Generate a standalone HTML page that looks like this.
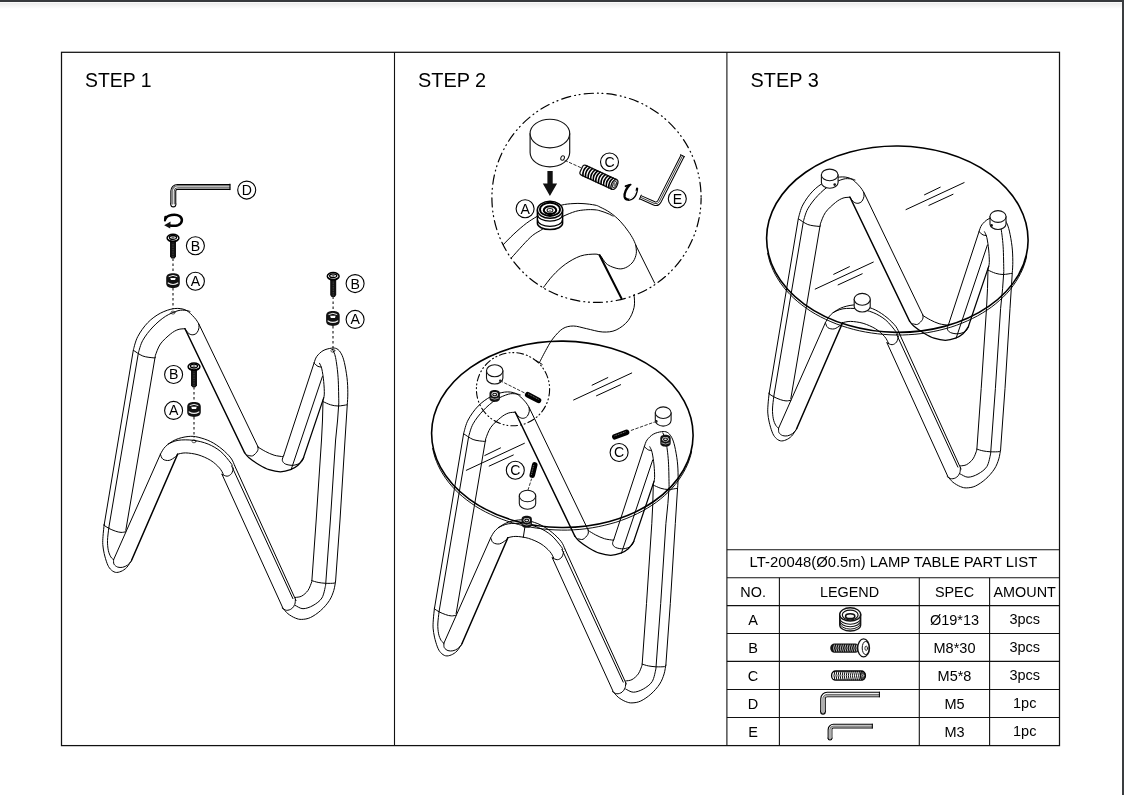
<!DOCTYPE html>
<html><head><meta charset="utf-8">
<style>
html,body{margin:0;padding:0;background:#fff;}
body{width:1124px;height:795px;overflow:hidden;position:relative;font-family:"Liberation Sans",sans-serif;}
svg{position:absolute;left:0;top:0;will-change:transform;}
text{font-family:"Liberation Sans",sans-serif;fill:#000;}
</style></head><body>
<svg width="1124" height="795" viewBox="0 0 1124 795">
<defs>
<linearGradient id="sh" x1="0" y1="0" x2="0" y2="1">
<stop offset="0" stop-color="#ececec"/><stop offset="1" stop-color="#ffffff"/>
</linearGradient>
<g id="grom">
<path d="M-6.8,-2.6 C-6.8,-6.4 -3.6,-7.4 0,-7.4 C3.6,-7.4 6.8,-6.4 6.8,-2.6 L6.8,2.6 C6.8,6.4 3.6,7.4 0,7.4 C-3.6,7.4 -6.8,6.4 -6.8,2.6 Z" fill="#111"/>
<path d="M-4,-4.1 Q0,-6.5 4,-4.1" stroke="#fff" stroke-width="0.9" fill="none"/>
<path d="M-2.7,-2.7 L2.7,-2.7 L2.1,-0.5 L-2.1,-0.5 Z" fill="#fff"/>
<path d="M-4.8,2.4 Q0,5.4 4.8,2.4" stroke="#eee" stroke-width="1.2" fill="none"/>
</g>
<g id="grom2">
<path d="M-5.2,-2.4 C-5.2,-5.2 -2.8,-6 0,-6 C2.8,-6 5.2,-5.2 5.2,-2.4 L5.2,2.4 C5.2,5.2 2.8,6 0,6 C-2.8,6 -5.2,5.2 -5.2,2.4 Z" fill="#111"/>
<ellipse cx="0" cy="-1.5" rx="3.2" ry="2.3" fill="#fff"/>
<ellipse cx="0" cy="-1.4" rx="2.0" ry="1.3" fill="#eee" stroke="#111" stroke-width="1.1"/>
<path d="M-3.8,2.3 Q0,4.6 3.8,2.3" fill="none" stroke="#aaa" stroke-width="0.9"/>
</g>
<g id="bolt">
<path d="M-3,2.5 L3,2.5 L3,18.6 L1.6,20.6 L-1.6,20.6 L-3,18.6 Z" fill="#111"/>
<path d="M0,4 L0,19" stroke="#555" stroke-width="0.8" stroke-dasharray="0.8 1.6" fill="none"/>
<ellipse cx="0" cy="0" rx="5.9" ry="3.8" fill="#fff" stroke="#000" stroke-width="1.5"/>
<ellipse cx="0" cy="-0.6" rx="3.6" ry="1.9" fill="none" stroke="#000" stroke-width="1.3"/>
<path d="M-1.2,-0.6 L1.2,-0.6 M0,-1.6 L0,0.4" stroke="#333" stroke-width="0.7" fill="none"/>
<path d="M-5,1.6 Q0,4.6 5,1.6" stroke="#000" stroke-width="1.1" fill="none"/>
</g>
</defs>
<!-- window chrome -->
<rect x="0" y="2" width="1122" height="1" fill="#f9f9f9"/>
<rect x="0" y="3" width="1122" height="6" fill="url(#sh)"/>
<rect x="0" y="0" width="1124" height="2" fill="#36393c"/>
<rect x="1122" y="0" width="2" height="795" fill="#3a3d40"/>

<!-- frame -->
<g fill="none" stroke="#111" stroke-width="1.1">
<rect x="61.5" y="52.3" width="998" height="693.3" stroke-width="1.25"/>
<line x1="394.5" y1="52" x2="394.5" y2="746"/>
<line x1="726.9" y1="52" x2="726.9" y2="746"/>
<!-- table -->
<line x1="726.9" y1="549.8" x2="1059.5" y2="549.8"/>
<line x1="726.9" y1="577.8" x2="1059.5" y2="577.8"/>
<line x1="726.9" y1="605.6" x2="1059.5" y2="605.6"/>
<line x1="726.9" y1="633.5" x2="1059.5" y2="633.5"/>
<line x1="726.9" y1="661.4" x2="1059.5" y2="661.4"/>
<line x1="726.9" y1="689.5" x2="1059.5" y2="689.5"/>
<line x1="726.9" y1="717.5" x2="1059.5" y2="717.5"/>
<line x1="779.4" y1="577.8" x2="779.4" y2="745.6"/>
<line x1="919.3" y1="577.8" x2="919.3" y2="745.6"/>
<line x1="989.6" y1="577.8" x2="989.6" y2="745.6"/>
</g>

<!-- titles -->
<g font-size="20.2">
<text transform="translate(85,87) scale(0.96,1)">STEP 1</text>
<text transform="translate(418,87) scale(0.985,1)">STEP 2</text>
<text transform="translate(750.6,87) scale(0.985,1)">STEP 3</text>
</g>
<!-- table text -->
<text x="893.4" y="567.3" font-size="14.85" text-anchor="middle">LT-20048(Ø0.5m) LAMP TABLE PART LIST</text>
<g font-size="14.4" text-anchor="middle">
<text x="753.1" y="596.6">NO.</text>
<text x="849.5" y="596.6">LEGEND</text>
<text x="954.5" y="596.6">SPEC</text>
<text x="1024.7" y="596.6">AMOUNT</text>
</g>
<g font-size="14.5" text-anchor="middle">
<text x="753.1" y="624.9">A</text>
<text x="753.1" y="652.7">B</text>
<text x="753.1" y="680.6">C</text>
<text x="753.1" y="708.6">D</text>
<text x="753.1" y="736.6">E</text>
<text x="954.5" y="624.9">Ø19*13</text>
<text x="954.5" y="652.7">M8*30</text>
<text x="954.5" y="680.6">M5*8</text>
<text x="954.5" y="708.6">M5</text>
<text x="954.5" y="736.6">M3</text>
<text x="1024.7" y="623.9">3pcs</text>
<text x="1024.7" y="651.7">3pcs</text>
<text x="1024.7" y="679.6">3pcs</text>
<text x="1024.7" y="707.6">1pc</text>
<text x="1024.7" y="735.6">1pc</text>
</g>

<g fill="none" stroke-linecap="round" stroke-linejoin="round">
<circle cx="246.7" cy="190.1" r="9.0" stroke="#000" stroke-width="1.1"/>
<text x="246.8" y="194.9" font-size="14.1" text-anchor="middle" stroke="none">D</text>
<circle cx="195.4" cy="245.7" r="9.0" stroke="#000" stroke-width="1.1"/>
<text x="195.5" y="250.5" font-size="14.1" text-anchor="middle" stroke="none">B</text>
<circle cx="195.4" cy="281.2" r="9.0" stroke="#000" stroke-width="1.1"/>
<text x="195.5" y="286.1" font-size="14.1" text-anchor="middle" stroke="none">A</text>
<circle cx="355.1" cy="283.6" r="9.0" stroke="#000" stroke-width="1.1"/>
<text x="355.2" y="288.5" font-size="14.1" text-anchor="middle" stroke="none">B</text>
<circle cx="355.1" cy="319.4" r="9.0" stroke="#000" stroke-width="1.1"/>
<text x="355.2" y="324.2" font-size="14.1" text-anchor="middle" stroke="none">A</text>
<circle cx="173.6" cy="374.5" r="9.0" stroke="#000" stroke-width="1.1"/>
<text x="173.7" y="379.4" font-size="14.1" text-anchor="middle" stroke="none">B</text>
<circle cx="173.6" cy="410.4" r="9.0" stroke="#000" stroke-width="1.1"/>
<text x="173.7" y="415.2" font-size="14.1" text-anchor="middle" stroke="none">A</text>
<path d="M173.30,204.40 L173.30,191.10 A4.20,4.20 0 0 1 177.50,186.90 L230.40,186.90" stroke="#000" stroke-width="6.0" stroke-linecap="butt"/>
<circle cx="173.3" cy="204.4" r="3.0" fill="#000"/>
<path d="M173.3,204.4 L173.3,204.39000000000001" stroke="#fff" stroke-width="3.8" stroke-linecap="round"/>
<path d="M173.30,204.40 L173.30,191.10 A4.20,4.20 0 0 1 177.50,186.90 L230.40,186.90" stroke="#fff" stroke-width="3.8" stroke-linecap="butt"/>
<path d="M172.10,204.40 L172.10,191.10 A5.40,5.40 0 0 1 177.50,185.78 L230.40,185.78" stroke="#7a7a7a" stroke-width="1.62" stroke-linecap="butt"/>
<path d="M174.26,204.40 L174.26,191.10 A3.24,3.24 0 0 1 177.50,187.80 L230.40,187.80" stroke="#1a1a1a" stroke-width="0.78" stroke-linecap="butt"/>
<path d="M229.90,184.10 L229.90,189.70" stroke="#000" stroke-width="1"/>
<path d="M165.6,218.6 C166.8,215 175.5,213.2 179.8,216.2 C183.2,218.8 182.3,223.6 178,225.2 C175.4,226 172.5,225.9 169.6,225.4" stroke-width="2.5" stroke="#000" />
<path d="M165.4,216.8 L165,220.5" stroke-width="2.2" stroke="#000" />
<path d="M164.2,225.2 L170.6,221.6 L170.2,228.6 Z" fill="#111"/>
<use href="#bolt" transform="translate(173,238) scale(1.0)"/>
<use href="#grom" transform="translate(173,280.6) scale(1.0)"/>
<use href="#bolt" transform="translate(333.2,276.3) scale(1.0)"/>
<use href="#grom" transform="translate(332.9,318.5) scale(1.0)"/>
<use href="#bolt" transform="translate(194,366.7) scale(1.0)"/>
<use href="#grom" transform="translate(194,409.5) scale(1.0)"/>
<path d="M173,258.5L173,273" stroke="#2a2a2a" stroke-width="1.2" stroke-dasharray="2.6 2.4" stroke-linecap="butt"/>
<path d="M173,288L173,309" stroke="#2a2a2a" stroke-width="1.2" stroke-dasharray="2.6 2.4" stroke-linecap="butt"/>
<path d="M333.1,296.5L333.1,311" stroke="#2a2a2a" stroke-width="1.2" stroke-dasharray="2.6 2.4" stroke-linecap="butt"/>
<path d="M333,326L333,348" stroke="#2a2a2a" stroke-width="1.2" stroke-dasharray="2.6 2.4" stroke-linecap="butt"/>
<path d="M194,387L194,402" stroke="#2a2a2a" stroke-width="1.2" stroke-dasharray="2.6 2.4" stroke-linecap="butt"/>
<path d="M194,417L194,437.5" stroke="#2a2a2a" stroke-width="1.2" stroke-dasharray="2.6 2.4" stroke-linecap="butt"/>
<ellipse cx="173" cy="312.6" rx="2" ry="1.5" stroke="#333" stroke-width="0.8"/>
<ellipse cx="194" cy="441.3" rx="2" ry="1.5" stroke="#333" stroke-width="0.8"/>
<ellipse cx="332.9" cy="350.7" rx="2" ry="1.5" stroke="#333" stroke-width="0.8"/>
<g id="frame">
<path d="M104.1,525.3L133.4,349.7L133.4,349.7C134.1,347.5 135.4,341.0 137.8,336.5C140.2,332.0 144.0,326.5 147.8,322.6C151.6,318.7 156.0,315.5 160.4,313.2C164.8,310.9 170.0,309.1 174.2,308.6C178.4,308.1 182.2,308.5 185.6,310.0C189.0,311.5 192.2,315.3 194.4,317.6C196.6,319.9 198.1,322.8 198.8,323.9L257.8,446.4" stroke-width="1.0" stroke="#000" />
<path d="M257.8,446.4C257.8,447.1 258.5,449.2 257.6,450.8C256.8,452.4 254.3,455.1 252.7,455.8C251.0,456.5 248.5,455.3 247.7,455.2" stroke-width="1.0" stroke="#000" />
<path d="M108.8,527.8L138.4,352.8L138.4,352.8C139.1,350.7 140.4,344.6 142.8,340.3C145.2,336.0 149.1,331.0 152.9,327.0C156.7,323.0 161.2,319.1 165.4,316.4C169.6,313.7 174.6,311.7 178.0,310.7C181.4,309.7 184.0,310.3 186.0,310.4C188.0,310.5 189.3,311.3 190.0,311.5" stroke-width="1.0" stroke="#000" />
<path d="M125.8,530.3L155.4,355.3L155.4,355.3C156.2,353.4 157.9,347.6 160.4,344.0C162.9,340.4 167.6,336.4 170.5,334.0C173.4,331.6 175.6,330.5 178.0,329.6C180.4,328.7 183.8,328.9 185.0,328.7" stroke-width="1.0" stroke="#000" />
<path d="M185.0,328.7L244.6,452.7" stroke-width="1.5" stroke="#000" />
<path d="M244.6,452.7C245.3,453.5 246.6,455.7 249.0,457.7C251.4,459.7 255.7,462.7 259.0,464.7C262.4,466.7 265.5,468.5 269.1,469.7C272.7,470.9 276.8,471.8 280.4,471.8C284.0,471.8 287.6,470.8 290.5,469.7C293.4,468.6 295.9,467.2 298.0,465.3C300.1,463.4 302.3,459.6 303.2,458.5L323.7,397.9" stroke-width="1.25" stroke="#000" />
<path d="M133.4,350.3C135.0,351.2 139.4,354.7 142.8,356.0C146.2,357.3 152.0,357.7 154.1,357.9C156.2,358.1 155.0,357.3 155.2,357.2" stroke-width="1.0" stroke="#000" />
<path d="M184.7,328.6C185.4,329.4 187.4,332.5 188.8,333.5C190.2,334.5 191.5,334.9 192.9,334.8C194.3,334.7 196.0,333.9 197.0,332.7C198.0,331.5 198.7,329.3 199.0,327.8C199.3,326.3 198.7,324.4 198.6,323.7" stroke-width="1.0" stroke="#000" />
<path d="M257.8,447.0C259.1,447.7 262.6,450.0 265.3,451.4C268.0,452.8 271.2,454.3 274.1,455.2C277.0,456.1 281.4,456.4 282.9,456.7" stroke-width="1.0" stroke="#000" />
<path d="M314.2,362.6L283.6,455.8" stroke-width="1.0" stroke="#000" />
<path d="M283.6,455.8C283.4,456.6 282.0,458.9 282.3,460.3C282.6,461.7 283.6,463.2 285.4,464.0C287.2,464.8 290.5,465.5 293.0,465.3C295.5,465.1 298.7,464.1 300.5,462.8C302.3,461.5 303.2,458.6 303.7,457.7" stroke-width="1.0" stroke="#000" />
<path d="M322.4,376.5L291.1,469.7" stroke-width="1.0" stroke="#000" />
<path d="M314.2,362.6C314.6,361.6 315.3,358.4 316.8,356.4C318.3,354.4 320.6,352.1 323.0,350.7C325.4,349.3 328.9,348.5 331.2,348.2C333.5,347.9 335.2,347.9 336.9,348.8C338.6,349.7 340.1,351.5 341.3,353.8C342.6,356.1 343.4,358.6 344.4,362.6C345.3,366.6 346.4,372.7 347.0,377.7C347.6,382.7 347.8,388.4 347.8,392.8C347.9,397.2 347.4,402.3 347.3,404.2L345.0,440.0L340.0,520.0L335.6,581.0L335.6,581.0C335.3,582.6 334.8,587.1 333.8,590.4C332.8,593.6 331.6,597.1 329.4,600.5C327.2,603.9 323.8,607.8 320.6,610.6C317.5,613.4 313.6,616.0 310.5,617.5C307.4,619.0 304.2,619.3 301.7,619.4C299.2,619.5 297.7,619.0 295.4,618.1C293.1,617.2 290.0,615.4 287.9,613.7C285.8,612.0 283.7,609.0 282.9,608.1L222.0,474.3" stroke-width="1.0" stroke="#000" />
<path d="M332.5,349.4C333.0,350.8 334.7,352.9 335.6,357.6C336.5,362.3 337.6,370.1 338.1,377.7C338.6,385.2 338.7,398.7 338.8,402.9L337.6,420.0L335.6,440.0L330.4,520.0L325.6,585.4L325.6,585.4C325.0,587.5 324.0,594.6 321.9,598.0C319.8,601.4 316.1,603.7 313.0,605.5C309.9,607.3 305.9,608.7 303.0,608.7C300.1,608.7 296.7,606.0 295.4,605.5" stroke-width="1.0" stroke="#000" />
<path d="M319.5,363.3C319.9,364.2 321.1,365.9 321.8,368.9C322.5,371.9 323.3,377.3 323.7,381.5C324.1,385.7 324.4,391.0 324.3,394.1C324.2,397.2 323.2,399.3 323.0,400.4L322.5,420.0L321.5,440.0L316.2,520.0L311.8,581.6L311.8,581.6C311.2,583.1 309.7,588.0 308.0,590.4C306.3,592.8 303.8,594.9 301.7,596.1C299.6,597.3 296.4,597.2 295.4,597.4" stroke-width="1.0" stroke="#000" />
<path d="M314.2,363.3C314.8,363.8 316.8,365.8 318.0,366.4C319.2,367.0 320.7,366.9 321.2,367.0" stroke-width="1.0" stroke="#000" />
<path d="M323.0,401.6C324.3,402.1 328.1,404.1 330.6,404.8C333.1,405.5 335.4,406.0 338.1,406.0C340.8,406.0 345.5,405.0 347.0,404.8" stroke-width="1.0" stroke="#000" />
<path d="M311.8,580.6C312.9,580.9 315.8,582.0 318.1,582.4C320.4,582.8 322.9,583.2 325.6,583.3C328.3,583.4 332.8,583.4 334.4,583.1C336.0,582.8 335.2,581.6 335.4,581.3" stroke-width="1.0" stroke="#000" />
<path d="M234.6,465.5L296.0,600.5" stroke-width="1.0" stroke="#000" />
<path d="M231.6,465.9L292.9,598.6" stroke-width="1.0" stroke="#000" />
<path d="M282.2,608.1C282.9,608.5 285.0,610.2 286.6,610.3C288.2,610.4 290.3,609.7 291.7,608.7C293.1,607.7 294.2,605.9 294.8,604.3C295.4,602.7 295.3,600.1 295.4,599.2" stroke-width="1.0" stroke="#000" />
<path d="M113.6,559.7L160.4,454.2L160.4,454.2C161.2,452.9 162.9,449.0 165.4,446.6C167.9,444.2 171.7,441.4 175.5,439.7C179.3,438.0 184.3,436.9 188.1,436.5C191.9,436.1 194.3,436.3 198.1,437.2C201.9,438.1 206.7,439.6 210.7,441.6C214.7,443.6 218.7,446.4 222.0,449.1C225.3,451.8 228.7,455.2 230.8,457.9C232.9,460.6 234.0,464.2 234.6,465.5" stroke-width="1.0" stroke="#000" />
<path d="M168.0,444.1C169.7,443.5 173.8,440.9 178.0,440.3C182.2,439.7 188.1,439.7 193.1,440.3C198.1,440.9 203.6,442.2 208.2,444.1C212.8,446.0 217.0,448.5 220.8,451.6C224.6,454.8 228.9,460.6 230.8,463.0C232.7,465.4 232.1,465.5 232.3,466.0" stroke-width="1.0" stroke="#000" />
<path d="M177.4,454.2C178.8,454.0 182.2,452.8 185.6,452.9C189.0,453.0 193.9,453.6 198.1,454.8C202.3,456.1 207.1,458.2 210.7,460.4C214.3,462.6 217.4,465.7 219.5,468.0C221.6,470.3 222.7,473.2 223.3,474.3" stroke-width="1.0" stroke="#000" />
<path d="M160.4,454.2C160.8,455.0 161.4,458.2 162.9,459.2C164.4,460.2 167.1,460.8 169.2,460.4C171.3,460.0 174.1,457.7 175.5,456.7C176.9,455.7 177.1,454.6 177.4,454.2" stroke-width="1.0" stroke="#000" />
<path d="M222.0,474.3C222.8,474.6 225.5,476.3 227.1,476.2C228.7,476.1 230.4,475.0 231.5,473.6C232.6,472.2 233.1,468.9 233.4,468.0" stroke-width="1.0" stroke="#000" />
<path d="M104.2,524.2C104.0,526.2 103.2,533.0 103.0,536.4C102.8,539.8 102.6,541.7 102.8,544.6C103.0,547.5 103.5,550.5 104.2,553.6C104.9,556.7 106.1,560.8 107.1,563.4C108.1,566.0 109.0,567.6 110.4,569.1C111.8,570.6 113.5,571.9 115.3,572.3C117.1,572.7 119.1,572.2 121.0,571.4C122.9,570.6 124.9,569.4 126.7,567.5C128.5,565.6 130.8,561.4 131.6,560.2" stroke-width="1.0" stroke="#000" />
<path d="M131.6,560.2L177.6,454.2" stroke-width="1.5" stroke="#000" />
<path d="M108.8,527.8C108.8,527.9 108.9,526.5 108.7,528.6C108.5,530.7 107.6,536.9 107.5,540.5C107.4,544.1 107.8,547.6 108.3,550.3C108.8,553.0 109.9,555.3 110.8,556.9C111.7,558.5 113.1,559.2 113.6,559.7" stroke-width="1.0" stroke="#000" />
<path d="M104.2,525.4C105.0,525.9 106.9,527.3 108.7,528.3C110.5,529.2 113.2,530.4 115.3,531.1C117.3,531.8 119.2,532.3 121.0,532.4C122.8,532.5 125.0,531.9 125.8,531.8" stroke-width="1.0" stroke="#000" />
<path d="M113.6,559.7C113.7,560.5 113.3,563.0 114.0,564.2C114.7,565.4 116.3,566.6 117.7,567.1C119.1,567.6 121.0,567.6 122.6,567.3C124.2,567.0 126.1,566.1 127.5,565.1C128.9,564.1 130.6,562.0 131.2,561.4" stroke-width="1.0" stroke="#000" />
</g>
<use href="#frame" transform="translate(330.3,83.5)"/>
<ellipse cx="562.35" cy="434.3" rx="130.75" ry="93.2" transform="rotate(0.65 562.35 434.3)" stroke="#000" stroke-width="1.6"/>
<path d="M691.6,451.3L690.6,455.7L689.2,460.0L687.6,464.3L685.6,468.5L683.4,472.7L680.9,476.7L678.2,480.7L675.2,484.6L671.9,488.4L668.4,492.0L664.6,495.5L660.6,498.9L656.4,502.2L651.9,505.3L647.3,508.2L642.5,511.0L637.4,513.6L632.3,516.0L626.9,518.3L621.4,520.4L615.8,522.3L610.0,523.9L604.2,525.4L598.2,526.7L592.2,527.8L586.1,528.7L579.9,529.4L573.7,529.8L567.5,530.1L561.3,530.1L555.0,529.9L548.8,529.5L542.6,528.9L536.5,528.1L530.4,527.1L524.4,525.9L518.5,524.5L512.6,522.8L506.9,521.0L501.3,519.0L495.9,516.8L490.6,514.4L485.5,511.9L480.5,509.2L475.7,506.3L471.2,503.2L466.8,500.0L462.7,496.7L458.7,493.2L455.0,489.6L451.6,485.9L448.4,482.0L445.5,478.1L442.8,474.0L440.4,469.9L438.3,465.7L436.5,461.5L434.9,457.2L433.7,452.8L432.7,448.4" stroke-width="0.95" stroke="#000" />
<path d="M573.6,400.0L631.7,373.0" stroke-width="1.0" stroke="#000" />
<path d="M592.1,385.2L607.8,377.6" stroke-width="1.0" stroke="#000" />
<path d="M596.5,395.8L620.6,384.7" stroke-width="1.0" stroke="#000" />
<path d="M466.3,470.3L524.4,443.3" stroke-width="1.0" stroke="#000" />
<path d="M484.8,455.5L500.5,447.9" stroke-width="1.0" stroke="#000" />
<path d="M489.2,466.1L513.3,455.0" stroke-width="1.0" stroke="#000" />
<path d="M524.8,527.6L523.3,537.3" stroke-width="1.0" stroke="#000" />
<use href="#grom2" transform="translate(494.7,395.9)"/>
<use href="#grom2" transform="translate(665.5,440.7)"/>
<use href="#grom2" transform="translate(526.7,521.8)"/>
<path d="M486.5,370.8 L486.5,378.0 A8.2,6.0 0 0 0 502.9,378.0 L502.9,370.8 Z" fill="#fff" stroke="#111" stroke-width="1.1"/>
<ellipse cx="494.7" cy="370.8" rx="8.2" ry="6.0" fill="#fff" stroke="#111" stroke-width="1.1"/>
<circle cx="500.3" cy="380.8" r="1.3" fill="#111"/>
<path d="M655.3,412.7 L655.3,420.3 A7.9,5.8 0 0 0 671.1,420.3 L671.1,412.7 Z" fill="#fff" stroke="#111" stroke-width="1.1"/>
<ellipse cx="663.2" cy="412.7" rx="7.9" ry="5.8" fill="#fff" stroke="#111" stroke-width="1.1"/>
<circle cx="656.3" cy="421.4" r="1.3" fill="#111"/>
<path d="M519.3,496.0 L519.3,503.4 A8.2,5.8 0 0 0 535.7,503.4 L535.7,496.0 Z" fill="#fff" stroke="#111" stroke-width="1.1"/>
<ellipse cx="527.5" cy="496" rx="8.2" ry="5.8" fill="#fff" stroke="#111" stroke-width="1.1"/>
<path d="M500.3,380.8L525.5,393.4" stroke="#333" stroke-width="1" stroke-dasharray="2.6 2.2"/>
<path d="M527.72,394.72L538.48,400.38" stroke="#000" stroke-width="5.6" stroke-linecap="round"/>
<path d="M528.14,393.92L538.90,399.58" stroke="#8a8a8a" stroke-width="0.9" stroke-dasharray="1 0.8" stroke-linecap="butt"/>
<path d="M656.3,421.4L630,430.8" stroke="#333" stroke-width="1" stroke-dasharray="2.6 2.2"/>
<path d="M614.85,436.75L626.55,432.35" stroke="#000" stroke-width="5.6" stroke-linecap="round"/>
<path d="M614.53,435.91L626.23,431.51" stroke="#8a8a8a" stroke-width="0.9" stroke-dasharray="1 0.8" stroke-linecap="butt"/>
<path d="M528,490L531.5,479" stroke="#333" stroke-width="1" stroke-dasharray="2.6 2.2"/>
<path d="M532.27,475.07L534.73,464.93" stroke="#000" stroke-width="5.6" stroke-linecap="round"/>
<path d="M531.40,474.86L533.86,464.72" stroke="#8a8a8a" stroke-width="0.9" stroke-dasharray="1 0.8" stroke-linecap="butt"/>
<circle cx="619.1" cy="452.5" r="9.0" stroke="#000" stroke-width="1.1"/>
<text x="619.2" y="457.4" font-size="14.1" text-anchor="middle" stroke="none">C</text>
<circle cx="515.3" cy="470.3" r="9.0" stroke="#000" stroke-width="1.1"/>
<text x="515.4" y="475.2" font-size="14.1" text-anchor="middle" stroke="none">C</text>
<circle cx="513" cy="389.2" r="36.6" stroke="#000" stroke-width="1.1" stroke-dasharray="6.8 3 1 2.8 1 3"/>
<path d="M634.1,294.7C634.1,296.8 635.1,303.0 634.1,307.3C633.1,311.6 631.1,316.9 628.1,320.7C625.1,324.5 620.3,328.1 616.1,330.0C611.9,331.9 607.7,332.2 602.8,332.0C597.9,331.8 591.6,329.7 586.7,328.7C581.8,327.7 577.4,326.0 573.4,326.0C569.4,326.0 566.0,326.7 562.7,328.7C559.4,330.7 556.1,334.7 553.4,338.0C550.7,341.3 549.0,344.6 546.7,348.7C544.4,352.8 540.6,360.3 539.4,362.6" stroke-width="1.0" stroke="#000" />
<path d="M536.6,360.8L542.2,364.4" stroke-width="1.0" stroke="#000" />
<circle cx="596.5" cy="197.8" r="104.6" stroke="#000" stroke-width="1.2" stroke-dasharray="9.3 4.1 0.9 3.7 0.9 4.1" stroke-dashoffset="3"/>
<path d="M503.2,244.7C505.0,242.9 510.0,237.6 513.9,234.0C517.8,230.4 522.5,226.2 526.4,223.3C530.3,220.4 533.2,218.7 537.1,216.4C541.0,214.1 545.9,211.4 550.0,209.5C554.1,207.6 557.9,206.1 561.7,205.1C565.5,204.1 569.5,203.8 573.0,203.6C576.5,203.3 579.3,203.3 583.0,203.6C586.7,203.8 592.1,204.5 595.0,205.1C597.9,205.7 597.6,205.8 600.1,207.1C602.6,208.3 606.8,210.2 610.1,212.6C613.5,214.9 617.2,218.1 620.2,221.2C623.2,224.3 626.0,228.2 628.2,231.2C630.4,234.2 631.9,236.8 633.3,239.3C634.6,241.8 635.8,245.1 636.3,246.3" stroke-width="1.0" stroke="#000" />
<path d="M636.3,246.3L654.6,283.0" stroke-width="1.0" stroke="#000" />
<path d="M511.4,257.9C513.3,255.8 519.2,249.1 522.7,245.3C526.2,241.5 529.4,238.0 532.7,235.3C536.1,232.6 539.6,231.2 542.8,229.0C546.0,226.8 548.6,224.1 552.0,222.0C555.4,219.9 559.0,218.2 562.9,216.4C566.8,214.6 571.7,212.5 575.5,211.4C579.3,210.3 582.4,210.1 585.6,209.8C588.9,209.5 592.6,209.6 595.0,209.8C597.4,210.0 597.9,210.2 600.1,210.8C602.3,211.4 605.8,212.7 608.0,213.6C610.2,214.5 612.2,215.7 613.1,216.1" stroke-width="1.0" stroke="#000" />
<path d="M635.8,245.3C635.9,246.7 636.7,250.7 636.3,253.4C635.9,256.1 634.8,259.1 633.3,261.4C631.8,263.6 629.4,265.6 627.2,266.9C625.0,268.1 622.7,268.9 620.2,268.9C617.7,268.9 614.5,267.8 612.1,266.9C609.8,266.0 607.9,265.1 606.1,263.4C604.3,261.6 602.1,257.8 601.1,256.4C600.1,255.0 600.3,255.2 600.1,254.9" stroke-width="1.0" stroke="#000" />
<path d="M543.4,287.5C545.0,285.5 549.2,279.4 552.9,275.5C556.6,271.6 560.8,267.4 565.4,264.2C570.0,260.9 575.6,257.7 580.5,256.0C585.4,254.3 591.8,254.2 595.0,254.1C598.2,254.0 598.8,255.0 599.6,255.2" stroke-width="1.0" stroke="#000" />
<path d="M599.6,255.2L621.4,298.3" stroke-width="2.0" stroke="#000" />
<path d="M634.3,294.5L634.5,294.8" stroke-width="1.0" stroke="#000" />
<path d="M537.4,210 L537.4,223.2 A12.6,6.4 0 0 0 562.6,223.2 L562.6,210 Z" fill="#fff" stroke="#000" stroke-width="1.5"/>
<path d="M537.6,214.7 A12.4,6.4 0 0 0 562.4,214.7" stroke="#000" stroke-width="1.2"/>
<path d="M537.6,220.0 A12.4,6.4 0 0 0 562.4,220.0" stroke="#000" stroke-width="1.2"/>
<ellipse cx="550" cy="209.8" rx="12.6" ry="8.5" fill="#fff" stroke="#000" stroke-width="1.5"/>
<ellipse cx="550" cy="209.4" rx="10" ry="6.6" stroke="#000" stroke-width="1.9"/>
<ellipse cx="550" cy="210.2" rx="6.2" ry="3.9" fill="#fff" stroke="#000" stroke-width="2.1"/>
<ellipse cx="550" cy="210.3" rx="2.9" ry="1.8" stroke="#222" stroke-width="1.1"/>
<ellipse cx="550" cy="210.3" rx="0.7" ry="0.6" fill="#333"/>
<circle cx="525.1" cy="208.7" r="9.0" stroke="#000" stroke-width="1.1"/>
<text x="525.2" y="213.5" font-size="14.1" text-anchor="middle" stroke="none">A</text>
<path d="M530.1,133.5 L530.1,152.5 A19.8,14.3 0 0 0 569.7,152.5 L569.7,133.5 Z" fill="#fff" stroke="#111" stroke-width="1.15"/>
<ellipse cx="549.9" cy="133.5" rx="19.8" ry="14.3" fill="#fff" stroke="#111" stroke-width="1.15"/>
<ellipse cx="562.6" cy="158" rx="1.7" ry="2.3" transform="rotate(25 562.6 158)" stroke="#111" stroke-width="1"/>
<path d="M547.4,171 L552.7,171 L552.7,183.6 L557.1,183.6 L549.9,196 L542.8,183.6 L547.4,183.6 Z" fill="#111"/>
<path d="M565,160.5L580.5,167.5" stroke="#333" stroke-width="1" stroke-dasharray="2.6 2.2"/>
<g transform="translate(582.2,169.6) rotate(24.8)">
<path d="M1.5,-5.3 L35.5,-5.3 L35.5,5.3 L1.5,5.3 Q-1,5.3 -1,2.5 L-1,-2.5 Q-1,-5.3 1.5,-5.3Z" fill="#fff" stroke="#111" stroke-width="1.3"/>
<path d="M3.2,-5.2 Q0.4,0 3.2,5.2" stroke="#000" stroke-width="1.6"/>
<path d="M6.0,-5.2 Q3.2,0 6.0,5.2" stroke="#000" stroke-width="1.6"/>
<path d="M8.9,-5.2 Q6.1,0 8.9,5.2" stroke="#000" stroke-width="1.6"/>
<path d="M11.8,-5.2 Q9.0,0 11.8,5.2" stroke="#000" stroke-width="1.6"/>
<path d="M14.6,-5.2 Q11.8,0 14.6,5.2" stroke="#000" stroke-width="1.6"/>
<path d="M17.4,-5.2 Q14.7,0 17.4,5.2" stroke="#000" stroke-width="1.6"/>
<path d="M20.3,-5.2 Q17.5,0 20.3,5.2" stroke="#000" stroke-width="1.6"/>
<path d="M23.1,-5.2 Q20.3,0 23.1,5.2" stroke="#000" stroke-width="1.6"/>
<path d="M26.0,-5.2 Q23.2,0 26.0,5.2" stroke="#000" stroke-width="1.6"/>
<path d="M28.9,-5.2 Q26.1,0 28.9,5.2" stroke="#000" stroke-width="1.6"/>
<path d="M31.7,-5.2 Q28.9,0 31.7,5.2" stroke="#000" stroke-width="1.6"/>
<path d="M34.6,-5.2 Q31.8,0 34.6,5.2" stroke="#000" stroke-width="1.6"/>
<ellipse cx="35.5" cy="0" rx="2.8" ry="5.3" fill="#fff" stroke="#111" stroke-width="1.3"/>
<ellipse cx="35.6" cy="0" rx="1.6" ry="3.2" stroke="#333" stroke-width="1"/>
<ellipse cx="35.6" cy="0" rx="0.6" ry="1.3" stroke="#555" stroke-width="0.8"/>
</g>
<circle cx="609.5" cy="162" r="9.0" stroke="#000" stroke-width="1.1"/>
<text x="609.6" y="166.8" font-size="14.1" text-anchor="middle" stroke="none">C</text>
<path d="M629.3,185.4 C626.8,187.8 624,193 624.6,196.8 C625.3,200.3 630,200.6 633,198.2 C635.3,196.2 636.6,192.6 637.1,188.6" stroke-width="2.3" stroke="#000" />
<path d="M625.6,186.2 L630.6,184.6" stroke-width="1.9" stroke="#000" />
<path d="M629.5,199 C632,198.6 634.6,195.5 636,191" stroke-width="1.2" stroke="#fff" />
<path d="M682.6,155.7 L659.4,201.4 Q657.6,204.8 654.2,203.4 L640.3,197.2" stroke="#000" stroke-width="4.5" stroke-linejoin="round" stroke-linecap="butt"/>
<path d="M682.6,155.7 L659.4,201.4 Q657.6,204.8 654.2,203.4 L640.3,197.2" stroke="#fff" stroke-width="2.5" stroke-linejoin="round" stroke-linecap="butt"/>
<path d="M682.6,155.7 L659.4,201.4 Q657.6,204.8 654.2,203.4 L640.3,197.2" stroke="#000" stroke-width="0.75" stroke-linejoin="round" stroke-linecap="butt"/>
<path d="M680.6,154.7L684.6,156.7" stroke-width="1.0" stroke="#000" />
<path d="M639.4,199.3L641.2,195.1" stroke-width="1.0" stroke="#000" />
<circle cx="677.3" cy="198.7" r="9.0" stroke="#000" stroke-width="1.1"/>
<text x="677.4" y="203.5" font-size="14.1" text-anchor="middle" stroke="none">E</text>
<use href="#frame" transform="translate(665,-131.5)"/>
<ellipse cx="897.35" cy="239.2" rx="130.75" ry="93.2" transform="rotate(0.65 897.35 239.2)" stroke="#000" stroke-width="1.6"/>
<path d="M1026.6,256.2L1025.6,260.6L1024.2,264.9L1022.6,269.2L1020.6,273.4L1018.4,277.6L1015.9,281.6L1013.2,285.6L1010.2,289.5L1006.9,293.3L1003.4,296.9L999.6,300.4L995.6,303.8L991.4,307.1L986.9,310.2L982.3,313.1L977.5,315.9L972.4,318.5L967.3,320.9L961.9,323.2L956.4,325.3L950.8,327.2L945.0,328.8L939.2,330.3L933.2,331.6L927.2,332.7L921.1,333.6L914.9,334.3L908.7,334.7L902.5,335.0L896.3,335.0L890.0,334.8L883.8,334.4L877.6,333.8L871.5,333.0L865.4,332.0L859.4,330.8L853.5,329.4L847.6,327.7L841.9,325.9L836.3,323.9L830.9,321.7L825.6,319.3L820.5,316.8L815.5,314.1L810.7,311.2L806.2,308.1L801.8,304.9L797.7,301.6L793.7,298.1L790.0,294.5L786.6,290.8L783.4,286.9L780.5,283.0L777.8,278.9L775.4,274.8L773.3,270.6L771.5,266.4L769.9,262.1L768.7,257.7L767.7,253.3" stroke-width="0.95" stroke="#000" />
<path d="M906.0,209.6L964.1,182.6" stroke-width="1.0" stroke="#000" />
<path d="M924.5,194.8L940.2,187.2" stroke-width="1.0" stroke="#000" />
<path d="M928.9,205.4L953.0,194.3" stroke-width="1.0" stroke="#000" />
<path d="M815.2,289.1L873.3,262.1" stroke-width="1.0" stroke="#000" />
<path d="M833.7,274.3L849.4,266.7" stroke-width="1.0" stroke="#000" />
<path d="M838.1,284.9L862.2,273.8" stroke-width="1.0" stroke="#000" />
<path d="M821.4,174.9 L821.4,182.4 A8.35,5.8 0 0 0 838.1,182.4 L838.1,174.9 Z" fill="#fff" stroke="#111" stroke-width="1.1"/>
<ellipse cx="829.7" cy="174.9" rx="8.35" ry="5.8" fill="#fff" stroke="#111" stroke-width="1.1"/>
<circle cx="834.7" cy="184.6" r="1.3" fill="#111"/>
<path d="M990.0,216.5 L990.0,224.3 A8.05,5.9 0 0 0 1006.0,224.3 L1006.0,216.5 Z" fill="#fff" stroke="#111" stroke-width="1.1"/>
<ellipse cx="998" cy="216.5" rx="8.05" ry="5.9" fill="#fff" stroke="#111" stroke-width="1.1"/>
<circle cx="991.6" cy="225.4" r="1.3" fill="#111"/>
<path d="M854.2,299.3 L854.2,306.8 A8.05,5.9 0 0 0 870.2,306.8 L870.2,299.3 Z" fill="#fff" stroke="#111" stroke-width="1.1"/>
<ellipse cx="862.2" cy="299.3" rx="8.05" ry="5.9" fill="#fff" stroke="#111" stroke-width="1.1"/>
<path d="M823.00,712.00 L823.00,698.70 A4.20,4.20 0 0 1 827.20,694.50 L879.90,694.50" stroke="#000" stroke-width="5.6" stroke-linecap="butt"/>
<circle cx="823.0" cy="712.0" r="2.8" fill="#000"/>
<path d="M823.00,712.00 L823.00,698.70 A4.20,4.20 0 0 1 827.20,694.50 L879.90,694.50" stroke="#fff" stroke-width="3.3" stroke-linecap="butt"/>
<path d="M824.23,712.00 L824.23,698.70 A2.97,2.97 0 0 1 827.20,695.53 L879.90,695.53" stroke="#a8a8a8" stroke-width="1.40" stroke-linecap="butt"/>
<path d="M822.89,698.70 L822.89,698.70 A4.31,4.31 0 0 1 827.20,694.41 L879.90,694.41" stroke="#222" stroke-width="0.67" stroke-linecap="butt"/>
<path d="M823.0,712.0 L823.0,699.2" stroke="#b0b0b0" stroke-width="3.1999999999999997" stroke-linecap="round"/>
<path d="M879.40,692.15 L879.40,696.85" stroke="#000" stroke-width="1"/>
<path d="M830.00,738.20 L830.00,729.50 A3.40,3.40 0 0 1 833.40,726.10 L872.80,726.10" stroke="#000" stroke-width="4.8" stroke-linecap="butt"/>
<circle cx="830.0" cy="738.2" r="2.4" fill="#000"/>
<path d="M830.00,738.20 L830.00,729.50 A3.40,3.40 0 0 1 833.40,726.10 L872.80,726.10" stroke="#fff" stroke-width="2.5" stroke-linecap="butt"/>
<path d="M831.06,738.20 L831.06,729.50 A2.34,2.34 0 0 1 833.40,726.96 L872.80,726.96" stroke="#a8a8a8" stroke-width="1.20" stroke-linecap="butt"/>
<path d="M829.90,729.50 L829.90,729.50 A3.50,3.50 0 0 1 833.40,726.02 L872.80,726.02" stroke="#222" stroke-width="0.58" stroke-linecap="butt"/>
<path d="M830.0,738.2 L830.0,730.0" stroke="#b0b0b0" stroke-width="2.4" stroke-linecap="round"/>
<path d="M872.30,724.15 L872.30,728.05" stroke="#000" stroke-width="1"/>
<rect x="831.6" y="671" width="33.8" height="9.2" rx="4.2" fill="#fff" stroke="#000" stroke-width="1.3"/>
<path d="M834.8,671.4 Q833.0,675.6 834.8,679.8" stroke="#000" stroke-width="0.95"/>
<path d="M836.8,671.4 Q835.0,675.6 836.8,679.8" stroke="#000" stroke-width="0.95"/>
<path d="M838.9,671.4 Q837.1,675.6 838.9,679.8" stroke="#000" stroke-width="0.95"/>
<path d="M840.9,671.4 Q839.1,675.6 840.9,679.8" stroke="#000" stroke-width="0.95"/>
<path d="M843.0,671.4 Q841.2,675.6 843.0,679.8" stroke="#000" stroke-width="0.95"/>
<path d="M845.0,671.4 Q843.2,675.6 845.0,679.8" stroke="#000" stroke-width="0.95"/>
<path d="M847.1,671.4 Q845.3,675.6 847.1,679.8" stroke="#000" stroke-width="0.95"/>
<path d="M849.1,671.4 Q847.4,675.6 849.1,679.8" stroke="#000" stroke-width="0.95"/>
<path d="M851.2,671.4 Q849.4,675.6 851.2,679.8" stroke="#000" stroke-width="0.95"/>
<path d="M853.2,671.4 Q851.5,675.6 853.2,679.8" stroke="#000" stroke-width="0.95"/>
<path d="M855.3,671.4 Q853.5,675.6 855.3,679.8" stroke="#000" stroke-width="0.95"/>
<path d="M857.3,671.4 Q855.5,675.6 857.3,679.8" stroke="#000" stroke-width="0.95"/>
<path d="M859.4,671.4 Q857.6,675.6 859.4,679.8" stroke="#000" stroke-width="0.95"/>
<path d="M861.4,671.4 Q859.6,675.6 861.4,679.8" stroke="#000" stroke-width="0.95"/>
<ellipse cx="862.6" cy="675.6" rx="2.3" ry="4.2" fill="#444" stroke="#000" stroke-width="0.9"/>
<circle cx="862.7" cy="675.6" r="1.2" stroke="#ccc" stroke-width="0.6"/>
<rect x="830.3" y="643.4" width="29" height="9.4" rx="4.2" fill="#111"/>
<path d="M834.3,645 Q832.5,648.1 834.3,651.2" stroke="#ddd" stroke-width="0.8"/>
<path d="M836.6,645 Q834.8,648.1 836.6,651.2" stroke="#ddd" stroke-width="0.8"/>
<path d="M838.8,645 Q837.0,648.1 838.8,651.2" stroke="#ddd" stroke-width="0.8"/>
<path d="M841.1,645 Q839.2,648.1 841.1,651.2" stroke="#ddd" stroke-width="0.8"/>
<path d="M843.3,645 Q841.5,648.1 843.3,651.2" stroke="#ddd" stroke-width="0.8"/>
<path d="M845.6,645 Q843.8,648.1 845.6,651.2" stroke="#ddd" stroke-width="0.8"/>
<path d="M847.8,645 Q846.0,648.1 847.8,651.2" stroke="#ddd" stroke-width="0.8"/>
<path d="M850.1,645 Q848.2,648.1 850.1,651.2" stroke="#ddd" stroke-width="0.8"/>
<path d="M852.3,645 Q850.5,648.1 852.3,651.2" stroke="#ddd" stroke-width="0.8"/>
<path d="M854.6,645 Q852.8,648.1 854.6,651.2" stroke="#ddd" stroke-width="0.8"/>
<path d="M856.8,645 Q855.0,648.1 856.8,651.2" stroke="#ddd" stroke-width="0.8"/>
<ellipse cx="863.6" cy="647.9" rx="5.9" ry="9" fill="#fff" stroke="#111" stroke-width="1.3"/>
<ellipse cx="865.7" cy="648" rx="3.5" ry="6.6" stroke="#111" stroke-width="1"/>
<ellipse cx="866.2" cy="648.3" rx="1.3" ry="2.2" stroke="#222" stroke-width="0.9"/>
<path d="M839.7,614.5 L839.7,625 A10.5,6 0 0 0 860.7,625 L860.7,614.5 Z" fill="#fff" stroke="#111" stroke-width="1.3"/>
<path d="M839.9,618.4 A10.3,5.9 0 0 0 860.5,618.4" stroke="#111" stroke-width="1.1"/>
<path d="M839.9,620.8 A10.3,5.9 0 0 0 860.5,620.8" stroke="#111" stroke-width="1.1"/>
<path d="M839.9,623.2 A10.3,5.9 0 0 0 860.5,623.2" stroke="#111" stroke-width="1.0"/>
<ellipse cx="850.2" cy="614.4" rx="10.5" ry="6.6" fill="#fff" stroke="#111" stroke-width="1.4"/>
<ellipse cx="850.2" cy="615" rx="7.9" ry="4.8" stroke="#111" stroke-width="1.2"/>
<ellipse cx="850.2" cy="616.2" rx="4.6" ry="2.4" fill="#f4f4f4" stroke="#111" stroke-width="1.6"/>
</g>
</svg>
</body></html>
